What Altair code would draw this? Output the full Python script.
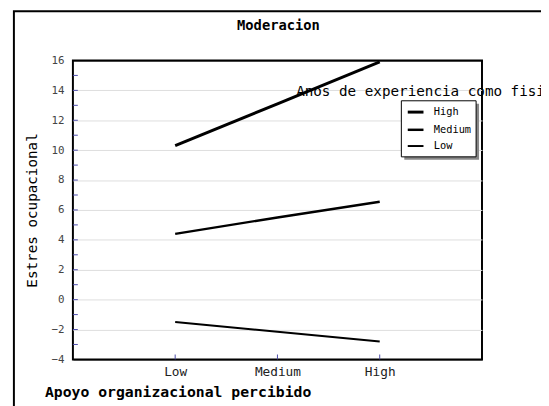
import altair as alt
import pandas as pd

# ---- data ----
levels = ["Low", "Medium", "High"]
x_pos = [1, 2, 3]
series = ["High", "Medium", "Low"]
high_vals = [10.3, 13.1, 15.9]
medium_vals = [4.4, 5.5, 6.55]
low_vals = [-1.5, -2.15, -2.8]
line_widths = [3, 2, 1]
y_major = [-4, -2, 0, 2, 4, 6, 8, 10, 12, 14, 16]
y_minor = list(range(-3, 16))

rows = []
for name, vals in zip(series, [high_vals, medium_vals, low_vals]):
    for lv, xp, v in zip(levels, x_pos, vals):
        rows.append({"serie": name, "apoyo": lv, "xp": xp, "estres": v})
df = pd.DataFrame(rows)

MONO = "DejaVu Sans Mono"
W, H = 416, 304

xscale = alt.Scale(domain=[0, 4], nice=False)
yscale = alt.Scale(domain=[-4, 16], nice=False)

x_axis = alt.Axis(values=x_pos, labelExpr="['','Low','Medium','High'][datum.value]",
                  title="Apoyo organizacional percibido", titleFont=MONO,
                  titleFontSize=15, titleFontWeight="bold", titleX=-29, titleY=38,
                  titleAlign="left", titleBaseline="alphabetic", titleAnchor="start",
                  labelFont=MONO, labelFontSize=13, labelColor="#222",
                  labelPadding=6, tickSize=0, domain=False, grid=False)
y_axis = alt.Axis(values=y_major, title="Estres ocupacional", titleFont=MONO,
                  titleFontSize=14.5, titleFontWeight="normal", titleX=-37, titleY=H / 2,
                  titleAngle=-90, titleAlign="center", titleBaseline="alphabetic",
                  labelFont=MONO, labelFontSize=11, labelColor="#444",
                  labelPadding=9, tickSize=0, domain=False, labelOverlap=False,
                  grid=True,
                  gridColor={"condition": {"test": "datum.value === 16 || datum.value === -4",
                                           "value": "black"},
                             "value": "#dddddd"},
                  gridWidth=1)

one = alt.Data(values=[{}])

# outer frame of the figure
frame = alt.Chart(one).mark_rect(fillOpacity=0, stroke="black", strokeWidth=2).encode(
    x=alt.value(-60), x2=alt.value(600), y=alt.value(-50), y2=alt.value(420)
)

title = alt.Chart(one).mark_text(
    text="Moderacion", font=MONO, fontSize=14, fontWeight="bold",
    align="center", baseline="alphabetic", color="black"
).encode(x=alt.value(W / 2 + 1), y=alt.value(-31))

lines = alt.Chart(df).mark_line(color="black").encode(
    x=alt.X("xp:Q", scale=xscale, axis=x_axis, title="Apoyo organizacional percibido"),
    y=alt.Y("estres:Q", scale=yscale, axis=y_axis, title="Estres ocupacional"),
    strokeWidth=alt.StrokeWidth("serie:O", sort=series,
                                scale=alt.Scale(domain=series, range=line_widths),
                                legend=alt.Legend(orient="none", legendX=339, legendY=43, title=None,
                                                  symbolType="stroke", symbolSize=256,
                                                  symbolStrokeColor="black", labelFont=MONO,
                                                  labelFontSize=10.5, labelColor="black",
                                                  labelOffset=9, rowPadding=2, padding=0)),
    detail="serie:N",
)

ytick_df = pd.DataFrame({"v": y_minor})
yticks = alt.Chart(ytick_df).mark_rule(color="#4a4aa8", strokeWidth=1).encode(
    y=alt.Y("v:Q", scale=yscale, axis=y_axis, title="Estres ocupacional"),
    x=alt.value(0), x2=alt.value(5)
)
xtick_df = pd.DataFrame({"p": x_pos})
xticks = alt.Chart(xtick_df).mark_rule(color="#4a4aa8", strokeWidth=1).encode(
    x=alt.X("p:Q", scale=xscale, axis=x_axis, title="Apoyo organizacional percibido"),
    y=alt.value(H), y2=alt.value(H - 5)
)

shadow = alt.Chart(one).mark_rect(fill="#888888").encode(
    x=alt.value(337), x2=alt.value(413), y=alt.value(44), y2=alt.value(101)
)
box = alt.Chart(one).mark_rect(fill="white", stroke="black", strokeWidth=1).encode(
    x=alt.value(334), x2=alt.value(410), y=alt.value(41), y2=alt.value(98)
)
legend_title = alt.Chart(one).mark_text(
    text="Anos de experiencia como fisioterapeuta", font=MONO, fontSize=14.5,
    align="left", baseline="alphabetic", color="black"
).encode(x=alt.value(227), y=alt.value(36))

chart = alt.layer(frame, title, lines, yticks, xticks, shadow, box, legend_title).properties(
    width=W, height=H,
    background="white",
    autosize=alt.AutoSizeParams(type="none"),
    padding={"left": 66, "top": 50, "right": 60, "bottom": 44},
).configure_view(stroke="black", strokeWidth=2)

chart.save("out.html", embed_options={"renderer": "svg", "actions": False})
